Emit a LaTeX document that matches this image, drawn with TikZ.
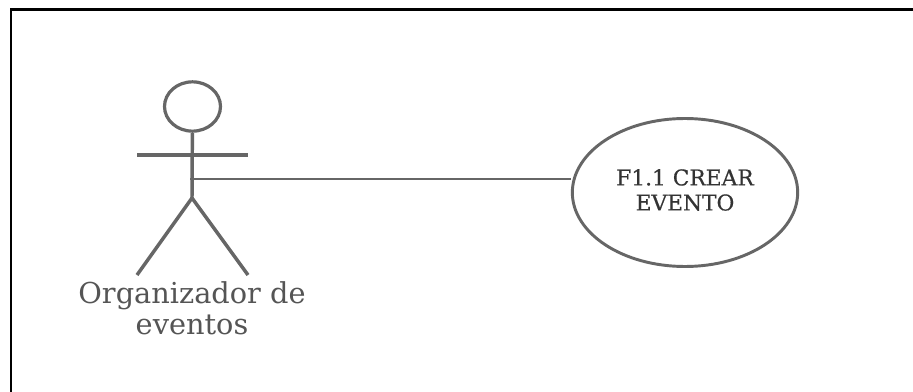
\documentclass[tikz,border=0pt]{standalone}
\usepackage{fontspec}
\setmainfont{DejaVu Serif}
\newfontfamily\ucfont[FakeBold=0.5]{DejaVu Serif}
\usetikzlibrary{shapes.geometric}
\definecolor{inkgray}{HTML}{666666}
\definecolor{textgray}{HTML}{555555}
\definecolor{ucgray}{HTML}{333333}
\tikzset{
  x=0.75pt,y=-0.75pt,
  frameline/.style={draw=black,line width=1.6pt},
  actorline/.style={draw=inkgray,line width=2.6pt},
  linkline/.style={draw=inkgray,line width=1.5pt},
  actorlabel/.style={text=textgray,font=\fontsize{21.6}{23.2}\selectfont,align=center,inner sep=0pt},
  usecase/.style={ellipse,draw=inkgray,line width=2.2pt,minimum width=169pt,minimum height=111pt,inner sep=0pt},
  uclabel/.style={text=ucgray,font=\ucfont\fontsize{16.3}{18.8}\selectfont,align=center,inner sep=0pt}
}
\begin{document}
\begin{tikzpicture}
\useasboundingbox (0,0) rectangle (913,392);
\fill[white] (0,0) rectangle (913,392);
\draw[frameline] (11,392) -- (11,9.5) -- (913,9.5);
\node[ellipse,draw=inkgray,line width=2.4pt,minimum width=42pt,minimum height=37pt,inner sep=0pt] (head) at (192.5,106.5) {};
\coordinate (hip) at (192,198);
\coordinate (armL) at (137,155);
\coordinate (armR) at (248,155);
\coordinate (footL) at (137,275);
\coordinate (footR) at (248,275);
\coordinate (waist) at (190,179);
\draw[actorline] (head) -- (hip);
\draw[actorline] (armL) -- (armR);
\draw[actorline] (hip) -- (footL);
\draw[actorline] (hip) -- (footR);
\node[usecase] (uc) at (685,192.5) {};
\node[uclabel] (uct) at (685,190) {F1.1 CREAR\\EVENTO};
\node[actorlabel] (actor) at (192,308) {Organizador de\\eventos};
\draw[linkline] (waist) -- (uc.west |- waist);
\end{tikzpicture}
\end{document}
